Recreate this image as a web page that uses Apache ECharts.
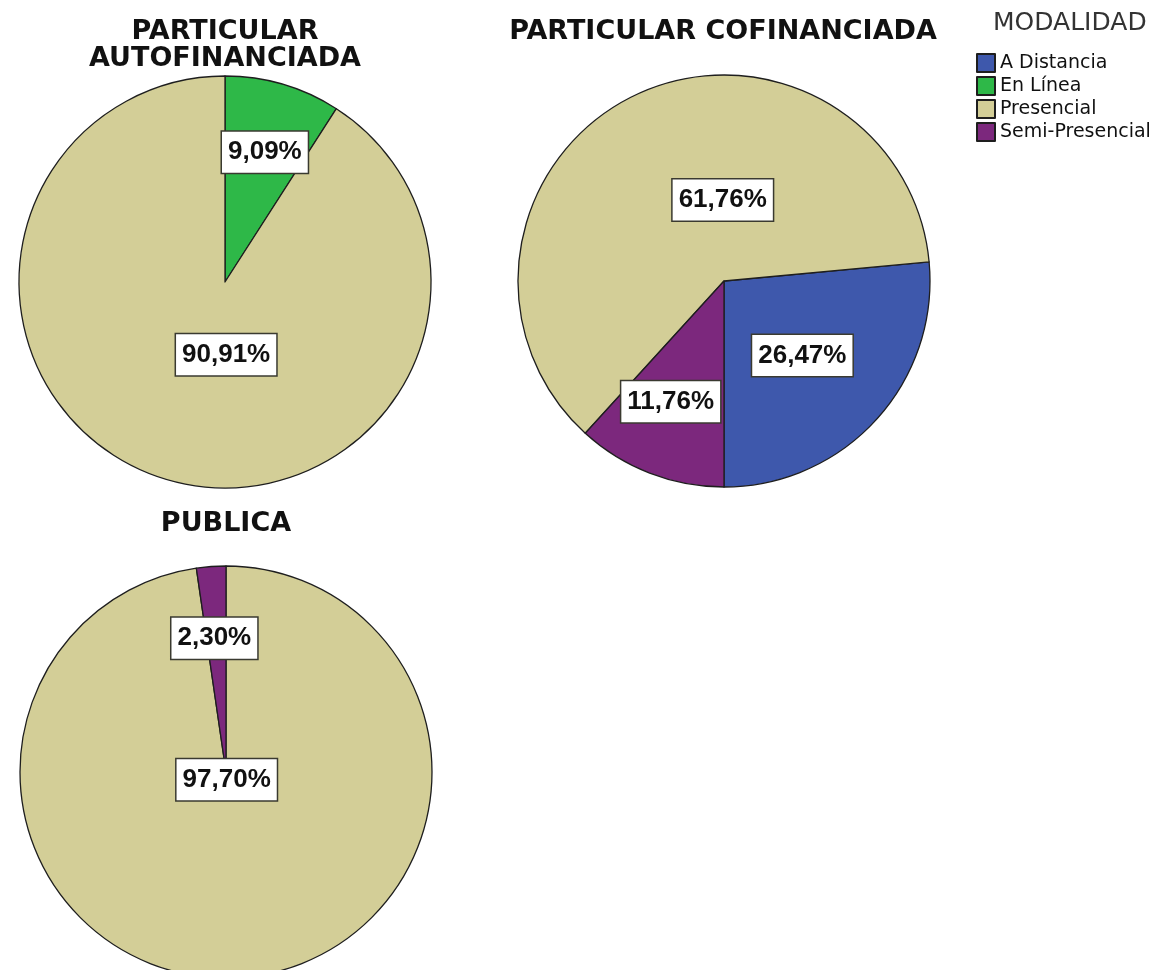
<!DOCTYPE html>
<html>
<head>
<meta charset="utf-8">
<script src="https://cdn.jsdelivr.net/npm/echarts@6/dist/echarts.min.js"></script>
<style>
  html, body { margin: 0; padding: 0; background: #fff; }
  #chart { width: 1173px; height: 970px; }
</style>
</head>
<body>
<div id="chart"></div>
<script>
// legend order (SPSS category order)
const categories = ['A Distancia', 'En Línea', 'Presencial', 'Semi-Presencial']
// percent per category, null = not present in that group
const autofinanciada = [null, 9.09, 90.91, null]
const cofinanciada = [26.47, null, 61.76, 11.76]
const publica = [null, null, 97.70, 2.30]

const colors = {
  'A Distancia': '#3E58AC',
  'En Línea': '#2EB848',
  'Presencial': '#D3CE97',
  'Semi-Presencial': '#7C287D'
}

// label nudges from the default 'inside' spot, per pie / per slice
const nudges = [
  [[10, -28], [31, -29]],
  [[0, 3], [46, 14], [-15, 22]],
  [[-7, -98], [-4, -28]]
]

function buildData(values) {
  const out = []
  values.forEach((v, i) => {
    if (v == null) return
    out.push({ name: categories[i], value: v, itemStyle: { color: colors[categories[i]] } })
  })
  return out
}

function pieSerie(k, values, center, startAngle, clockwise) {
  return {
    type: 'pie',
    radius: 206,
    center: center,
    startAngle: startAngle,
    clockwise: clockwise,
    data: buildData(values),
    itemStyle: { borderColor: '#1e1e1e', borderWidth: 1.3 },
    label: {
      show: true,
      position: 'inside',
      formatter: p => p.value.toFixed(2).replace('.', ',') + '%',
      fontFamily: 'Liberation Sans, Arial, sans-serif',
      fontWeight: 'bold',
      fontSize: 26,
      lineHeight: 28,
      color: '#111',
      backgroundColor: '#fff',
      borderColor: '#3a3a30',
      borderWidth: 1.5,
      padding: [7, 6, 6, 6]
    },
    labelLine: { show: false },
    labelLayout: params => {
      const n = nudges[k][params.dataIndex]
      return { dx: n[0], dy: n[1] }
    },
    emphasis: { disabled: true },
    animation: false
  }
}

const titleStyle = {
  fontFamily: 'DejaVu Sans, sans-serif',
  fontWeight: 'bold',
  fontSize: 27,
  lineHeight: 27,
  color: '#111'
}

const chart = echarts.init(document.getElementById('chart'))
chart.setOption({
  backgroundColor: '#fff',
  animation: false,
  title: [
    { text: 'PARTICULAR\nAUTOFINANCIADA', left: 225, top: 18, textAlign: 'center', padding: 0, textStyle: titleStyle },
    { text: 'PARTICULAR COFINANCIADA', left: 723, top: 18, textAlign: 'center', padding: 0, textStyle: titleStyle },
    { text: 'PUBLICA', left: 226, top: 510, textAlign: 'center', padding: 0, textStyle: titleStyle },
    {
      text: 'MODALIDAD', left: 993, top: 11, padding: 0,
      textStyle: { fontFamily: 'DejaVu Sans, sans-serif', fontWeight: 'normal', fontSize: 25, color: '#333' }
    }
  ],
  legend: {
    data: categories,
    orient: 'vertical',
    left: 976,
    top: 53,
    padding: 0,
    icon: 'rect',
    itemWidth: 18,
    itemHeight: 18,
    itemGap: 3,
    selectedMode: false,
    textStyle: { fontFamily: 'DejaVu Sans, sans-serif', fontSize: 19, lineHeight: 18, color: '#111' }
  },
  series: [
    pieSerie(0, autofinanciada, [225, 282], 90, true),
    pieSerie(1, cofinanciada, [724, 281], -90, false),
    pieSerie(2, publica, [226, 772], 90, true)
  ]
})
</script>
</body>
</html>
